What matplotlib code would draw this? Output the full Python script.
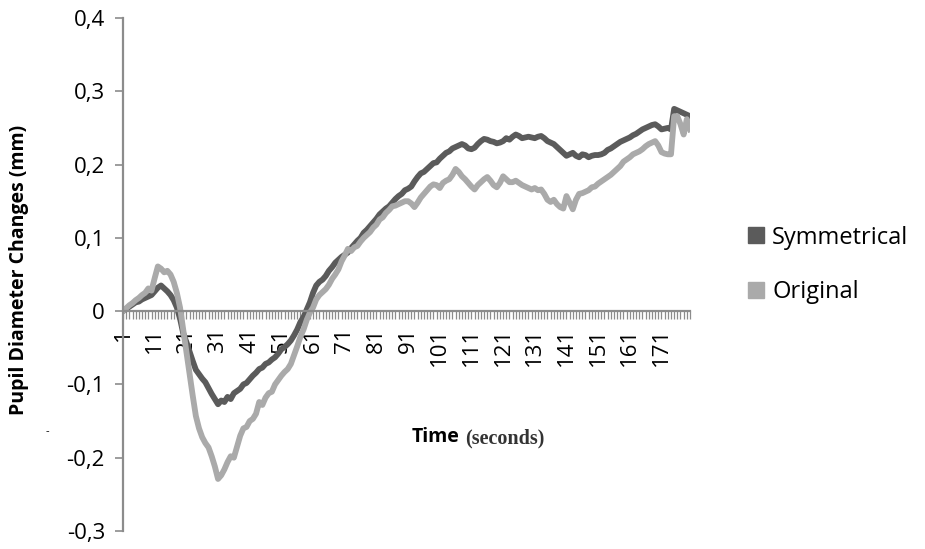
import numpy as np
import matplotlib.pyplot as plt
from matplotlib.lines import Line2D

# seconds 1..180
seconds = np.arange(1, 181)

# pupil diameter change (mm), symmetrical face
symmetrical = [
    0.000, 0.003, 0.006, 0.009, 0.012, 0.013, 0.016, 0.018, 0.020, 0.022,
    0.027, 0.032, 0.035, 0.031, 0.027, 0.022, 0.015, 0.005, -0.010, -0.030,
    -0.042, -0.055, -0.068, -0.080, -0.086, -0.092, -0.097, -0.105, -0.113, -0.120,
    -0.127, -0.122, -0.124, -0.117, -0.120, -0.112, -0.109, -0.106, -0.100, -0.098,
    -0.093, -0.088, -0.084, -0.079, -0.077, -0.072, -0.070, -0.066, -0.063, -0.058,
    -0.052, -0.049, -0.045, -0.040, -0.033, -0.025, -0.015, -0.008, 0.002, 0.012,
    0.025, 0.035, 0.040, 0.043, 0.048, 0.055, 0.060, 0.066, 0.070, 0.074,
    0.077, 0.080, 0.086, 0.091, 0.096, 0.100, 0.107, 0.111, 0.116, 0.121,
    0.126, 0.132, 0.136, 0.140, 0.143, 0.148, 0.153, 0.157, 0.160, 0.165,
    0.167, 0.170, 0.177, 0.183, 0.188, 0.190, 0.194, 0.198, 0.202, 0.203,
    0.208, 0.212, 0.216, 0.218, 0.222, 0.224, 0.226, 0.228, 0.226, 0.222,
    0.221, 0.223, 0.228, 0.232, 0.235, 0.234, 0.232, 0.231, 0.229, 0.230,
    0.232, 0.236, 0.234, 0.238, 0.241, 0.239, 0.236, 0.237, 0.238, 0.237,
    0.236, 0.238, 0.239, 0.236, 0.232, 0.230, 0.228, 0.224, 0.220, 0.216,
    0.212, 0.214, 0.216, 0.212, 0.210, 0.214, 0.213, 0.210, 0.212, 0.213,
    0.213, 0.214, 0.216, 0.220, 0.222, 0.225, 0.228, 0.231, 0.233, 0.235,
    0.237, 0.240, 0.242, 0.245, 0.248, 0.250, 0.252, 0.254, 0.255, 0.252,
    0.248, 0.249, 0.250, 0.248, 0.276, 0.274, 0.272, 0.270, 0.268, 0.266,
]

# pupil diameter change (mm), original face
original = [
    0.000, 0.004, 0.008, 0.011, 0.015, 0.018, 0.022, 0.025, 0.031, 0.028,
    0.045, 0.061, 0.058, 0.053, 0.055, 0.050, 0.040, 0.025, 0.005, -0.025,
    -0.055, -0.085, -0.115, -0.143, -0.160, -0.172, -0.180, -0.186, -0.198, -0.212,
    -0.229, -0.224, -0.216, -0.206, -0.198, -0.200, -0.185, -0.170, -0.160, -0.158,
    -0.150, -0.147, -0.140, -0.124, -0.128, -0.118, -0.112, -0.110, -0.100, -0.094,
    -0.088, -0.083, -0.079, -0.072, -0.060, -0.048, -0.035, -0.025, -0.012, -0.002,
    0.005, 0.016, 0.022, 0.026, 0.030, 0.036, 0.044, 0.050, 0.057, 0.068,
    0.076, 0.085, 0.082, 0.087, 0.089, 0.095, 0.100, 0.104, 0.108, 0.114,
    0.118, 0.125, 0.128, 0.134, 0.138, 0.143, 0.144, 0.146, 0.148, 0.150,
    0.150, 0.147, 0.142, 0.148, 0.155, 0.160, 0.165, 0.170, 0.173, 0.172,
    0.168, 0.175, 0.178, 0.180, 0.186, 0.194, 0.190, 0.184, 0.180, 0.175,
    0.170, 0.166, 0.172, 0.176, 0.180, 0.183, 0.178, 0.172, 0.169, 0.175,
    0.184, 0.180, 0.176, 0.176, 0.178, 0.175, 0.172, 0.170, 0.168, 0.166,
    0.168, 0.165, 0.166, 0.160, 0.152, 0.149, 0.152, 0.146, 0.142, 0.140,
    0.157, 0.148, 0.139, 0.152, 0.160, 0.161, 0.163, 0.165, 0.169, 0.170,
    0.174, 0.177, 0.180, 0.183, 0.186, 0.190, 0.194, 0.198, 0.204, 0.207,
    0.210, 0.214, 0.216, 0.218, 0.221, 0.225, 0.228, 0.230, 0.232, 0.226,
    0.217, 0.215, 0.214, 0.214, 0.266, 0.266, 0.255, 0.241, 0.262, 0.248,
]

y_ticks = [-0.3, -0.2, -0.1, 0, 0.1, 0.2, 0.3, 0.4]
y_labels = ['-0,3', '-0,2', '-0,1', '0', '0,1', '0,2', '0,3', '0,4']
x_labelled = list(range(1, 181, 10))

dark = '#5b5b5b'
light = '#aaaaaa'
axis_grey = '#8c8c8c'

plt.rcParams['font.family'] = ['Open Sans', 'DejaVu Sans']

fig = plt.figure(figsize=(9.25, 5.49), dpi=100)
ax = fig.add_axes([123 / 925, 18 / 549, (690 - 123) / 925, (531 - 18) / 549])

ax.plot(seconds, symmetrical, color=dark, lw=4.2, solid_joinstyle='round')
ax.plot(seconds, original, color=light, lw=4.2, solid_joinstyle='round')

ax.set_xlim(1, 180)
ax.set_ylim(-0.3, 0.4)

# axis crossing at zero like the Excel chart
for s in ['top', 'right']:
    ax.spines[s].set_visible(False)
ax.spines['bottom'].set_position(('data', 0))
for s in ['bottom', 'left']:
    ax.spines[s].set_color(axis_grey)
    ax.spines[s].set_linewidth(1.6)

ax.set_yticks(y_ticks)
ax.set_yticklabels(y_labels, fontsize=16)
ax.tick_params(axis='y', direction='out', length=6, width=1.2, color=axis_grey, pad=7)

ax.set_xticks(seconds)
ax.set_xticklabels([str(s) if s in x_labelled else '' for s in seconds],
                   rotation=90, fontsize=16, va='top', ha='center')
ax.tick_params(axis='x', direction='out', length=6, width=0.9, color=axis_grey, pad=6)

fig.text(19 / 925, 1 - 270 / 549, 'Pupil Diameter Changes (mm)', rotation=90,
         fontsize=14, fontweight='bold', ha='center', va='center')
fig.text(412 / 925, 1 - 437 / 549, 'Time', fontsize=14, fontweight='bold',
         ha='left', va='center')
fig.text(465 / 925, 1 - 438 / 549, '(seconds)', fontsize=14.5, fontweight='bold',
         family='Liberation Serif', color='#333333', ha='left', va='center')
fig.text(47 / 925, 1 - 432 / 549, '-', fontsize=8, ha='center', va='center')

handles = [Line2D([], [], ls='none', marker='s', ms=12, color=dark),
           Line2D([], [], ls='none', marker='s', ms=12, color=light)]
fig.legend(handles, ['Symmetrical', 'Original'], loc='center left',
           bbox_to_anchor=(725 / 925, 1 - 265 / 549), frameon=False,
           fontsize=17, handlelength=0.8, handletextpad=0.3, labelspacing=1.3)

fig.savefig('out.png', dpi=100)
